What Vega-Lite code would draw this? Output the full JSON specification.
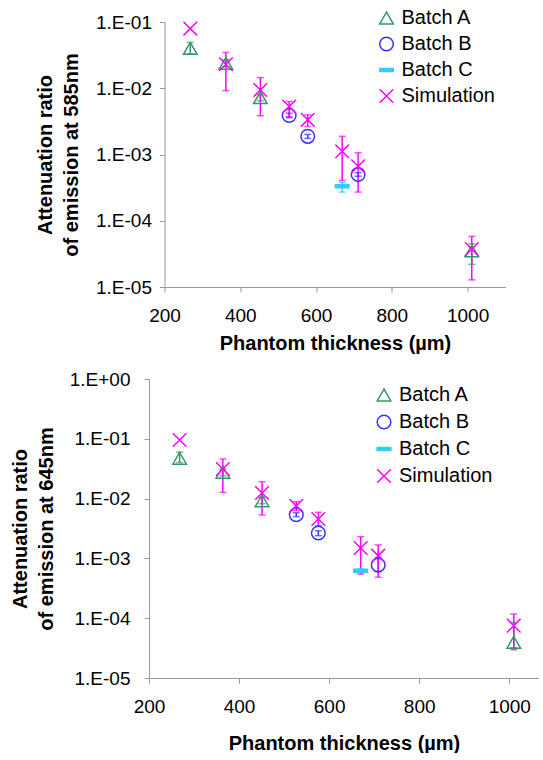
{
  "$schema": "https://vega.github.io/schema/vega-lite/v6.json",
  "padding": {"left": 10, "top": 8, "right": 0, "bottom": 0},
  "background": "white",
  "datasets": {
    "d": [
      {"p": "585", "s": "Batch A", "x": 268, "y": 0.040, "lo": 0.033, "hi": 0.049},
      {"p": "585", "s": "Batch A", "x": 362, "y": 0.0237, "lo": 0.021, "hi": 0.027},
      {"p": "585", "s": "Batch A", "x": 453, "y": 0.0072, "lo": 0.0065, "hi": 0.008},
      {"p": "585", "s": "Batch A", "x": 1011, "y": 0.000035, "lo": 0.000022, "hi": 0.000045},
      {"p": "585", "s": "Batch B", "x": 529, "y": 0.00388, "lo": 0.0036, "hi": 0.0042},
      {"p": "585", "s": "Batch B", "x": 578, "y": 0.00188, "lo": 0.00175, "hi": 0.00201},
      {"p": "585", "s": "Batch B", "x": 711, "y": 0.0005, "lo": 0.00047, "hi": 0.00053},
      {"p": "585", "s": "Batch C", "x": 669, "y": 0.000333, "lo": 0.000271, "hi": 0.000383},
      {"p": "585", "s": "Simulation", "x": 268, "y": 0.0796, "lo": null, "hi": null},
      {"p": "585", "s": "Simulation", "x": 362, "y": 0.023, "lo": 0.0092, "hi": 0.0347},
      {"p": "585", "s": "Simulation", "x": 453, "y": 0.0094, "lo": 0.00384, "hi": 0.0145},
      {"p": "585", "s": "Simulation", "x": 529, "y": 0.0053, "lo": 0.00375, "hi": 0.0063},
      {"p": "585", "s": "Simulation", "x": 578, "y": 0.00334, "lo": 0.00265, "hi": 0.00397},
      {"p": "585", "s": "Simulation", "x": 669, "y": 0.00112, "lo": 0.000406, "hi": 0.00188},
      {"p": "585", "s": "Simulation", "x": 711, "y": 0.000665, "lo": 0.000271, "hi": 0.00106},
      {"p": "585", "s": "Simulation", "x": 1011, "y": 0.0000373, "lo": 0.0000128, "hi": 0.000058},
      {"p": "645", "s": "Batch A", "x": 268, "y": 0.0472, "lo": 0.040, "hi": 0.0594},
      {"p": "645", "s": "Batch A", "x": 364, "y": 0.0275, "lo": 0.024, "hi": 0.031},
      {"p": "645", "s": "Batch A", "x": 451, "y": 0.0092, "lo": 0.0082, "hi": 0.0105},
      {"p": "645", "s": "Batch A", "x": 1010, "y": 0.0000395, "lo": 0.000032, "hi": 0.000085},
      {"p": "645", "s": "Batch B", "x": 527, "y": 0.00538, "lo": 0.005, "hi": 0.0058},
      {"p": "645", "s": "Batch B", "x": 576, "y": 0.00266, "lo": 0.0024, "hi": 0.0029},
      {"p": "645", "s": "Batch B", "x": 709, "y": 0.000776, "lo": 0.0006, "hi": 0.00102},
      {"p": "645", "s": "Batch C", "x": 670, "y": 0.000623, "lo": 0.00058, "hi": 0.00067},
      {"p": "645", "s": "Simulation", "x": 268, "y": 0.0955, "lo": null, "hi": null},
      {"p": "645", "s": "Simulation", "x": 364, "y": 0.0313, "lo": 0.0127, "hi": 0.046},
      {"p": "645", "s": "Simulation", "x": 451, "y": 0.0124, "lo": 0.00532, "hi": 0.0192},
      {"p": "645", "s": "Simulation", "x": 527, "y": 0.0076, "lo": 0.0063, "hi": 0.0089},
      {"p": "645", "s": "Simulation", "x": 576, "y": 0.00456, "lo": 0.00352, "hi": 0.0059},
      {"p": "645", "s": "Simulation", "x": 670, "y": 0.00149, "lo": 0.000548, "hi": 0.00231},
      {"p": "645", "s": "Simulation", "x": 709, "y": 0.00111, "lo": 0.000483, "hi": 0.00168},
      {"p": "645", "s": "Simulation", "x": 1010, "y": 0.000075, "lo": 0.0000297, "hi": 0.000117}
    ]
  },
  "config": {
    "view": {"stroke": null},
    "font": "Liberation Sans",
    "axis": {
      "grid": false,
      "domainColor": "#999999",
      "tickColor": "#999999",
      "tickSize": 5,
      "labelFont": "Liberation Sans",
      "labelFontSize": 19,
      "labelColor": "#000000",
      "titleFont": "Liberation Sans",
      "titleFontSize": 20,
      "titleFontWeight": "bold",
      "titleColor": "#000000"
    },
    "legend": {
      "labelFont": "Liberation Sans",
      "labelFontSize": 20,
      "labelColor": "#000000",
      "symbolSize": 185,
      "symbolStrokeWidth": 1.5,
      "rowPadding": 6,
      "labelOffset": 5,
      "padding": 0
    }
  },
  "center": true,
  "spacing": 17,
  "resolve": {
    "scale": {"shape": "independent", "stroke": "independent", "fill": "independent"},
    "legend": {"shape": "independent", "stroke": "independent", "fill": "independent"}
  },
  "vconcat": [
    {
      "width": 341,
      "height": 265,
      "title": {"text": " ", "orient": "right", "offset": 8, "fontSize": 10},
      "data": {"name": "d"},
      "transform": [{"filter": "datum.p == '585'"}],
      "encoding": {
        "x": {
          "field": "x", "type": "quantitative",
          "scale": {"domain": [200, 1100], "nice": false, "zero": false},
          "axis": {"values": [200, 400, 600, 800, 1000], "format": "d", "title": "Phantom thickness (µm)", "labelPadding": 14, "titlePadding": 8, "labelFlush": false}
        },
        "y": {
          "field": "y", "type": "quantitative",
          "scale": {"type": "log", "domain": [0.00001, 0.1], "nice": false},
          "axis": {
            "values": [0.00001, 0.0001, 0.001, 0.01, 0.1],
            "labelExpr": "'1.E' + (datum.value >= 1 ? '+00' : '-' + format(round(-log(datum.value)/LN10), '02d'))",
            "title": ["Attenuation ratio", "of emission at 585nm"],
            "titleLineHeight": 26,
            "labelPadding": 8,
            "titlePadding": 14,
            "labelFlush": false
          }
        }
      },
      "layer": [
        {
          "transform": [{"filter": "isValid(datum.lo)"}],
          "mark": {"type": "rule", "strokeWidth": 1.5},
          "encoding": {
            "y": {"field": "lo", "type": "quantitative"},
            "y2": {"field": "hi"},
            "color": {"field": "s", "type": "nominal", "scale": {"domain": ["Batch A", "Batch B", "Batch C", "Simulation"], "range": ["#339966", "#3333ff", "#33ccff", "#ff00ff"]}, "legend": null}
          }
        },
        {
          "transform": [{"filter": "isValid(datum.lo)"}],
          "mark": {"type": "tick", "orient": "horizontal", "size": 7, "thickness": 1.5},
          "encoding": {
            "y": {"field": "lo", "type": "quantitative"},
            "color": {"field": "s", "type": "nominal", "scale": {"domain": ["Batch A", "Batch B", "Batch C", "Simulation"], "range": ["#339966", "#3333ff", "#33ccff", "#ff00ff"]}, "legend": null}
          }
        },
        {
          "transform": [{"filter": "isValid(datum.hi)"}],
          "mark": {"type": "tick", "orient": "horizontal", "size": 7, "thickness": 1.5},
          "encoding": {
            "y": {"field": "hi", "type": "quantitative"},
            "color": {"field": "s", "type": "nominal", "scale": {"domain": ["Batch A", "Batch B", "Batch C", "Simulation"], "range": ["#339966", "#3333ff", "#33ccff", "#ff00ff"]}, "legend": null}
          }
        },
        {
          "mark": {"type": "point", "size": 185, "strokeWidth": 1.5, "opacity": 1},
          "encoding": {
            "shape": {"field": "s", "type": "nominal", "scale": {"domain": ["Batch A", "Batch B", "Batch C", "Simulation"], "range": ["triangle-up", "circle", "M-1,-0.22L1,-0.22L1,0.22L-1,0.22Z", "M-1,-1L1,1M-1,1L1,-1"]}, "legend": {"title": null, "orient": "none", "legendX": 212, "legendY": -14}},
            "stroke": {"field": "s", "type": "nominal", "scale": {"domain": ["Batch A", "Batch B", "Batch C", "Simulation"], "range": ["#339966", "#3333ff", "#33ccff", "#ff00ff"]}, "legend": {"title": null, "orient": "none", "legendX": 212, "legendY": -14}},
            "fill": {"field": "s", "type": "nominal", "scale": {"domain": ["Batch A", "Batch B", "Batch C", "Simulation"], "range": ["transparent", "transparent", "#33ccff", "transparent"]}, "legend": {"title": null, "orient": "none", "legendX": 212, "legendY": -14}}
          }
        }
      ]
    },
    {
      "width": 390,
      "height": 299,
      "data": {"name": "d"},
      "transform": [{"filter": "datum.p == '645'"}],
      "encoding": {
        "x": {
          "field": "x", "type": "quantitative",
          "scale": {"domain": [200, 1066], "nice": false, "zero": false},
          "axis": {"values": [200, 400, 600, 800, 1000], "format": "d", "title": "Phantom thickness (µm)", "labelPadding": 14, "titlePadding": 17, "labelFlush": false}
        },
        "y": {
          "field": "y", "type": "quantitative",
          "scale": {"type": "log", "domain": [0.00001, 1], "nice": false},
          "axis": {
            "values": [0.00001, 0.0001, 0.001, 0.01, 0.1, 1],
            "labelExpr": "'1.E' + (datum.value >= 1 ? '+00' : '-' + format(round(-log(datum.value)/LN10), '02d'))",
            "title": ["Attenuation ratio", "of emission at 645nm"],
            "titleLineHeight": 26,
            "labelPadding": 14,
            "titlePadding": 13,
            "labelFlush": false
          }
        }
      },
      "layer": [
        {
          "transform": [{"filter": "isValid(datum.lo)"}],
          "mark": {"type": "rule", "strokeWidth": 1.5},
          "encoding": {
            "y": {"field": "lo", "type": "quantitative"},
            "y2": {"field": "hi"},
            "color": {"field": "s", "type": "nominal", "scale": {"domain": ["Batch A", "Batch B", "Batch C", "Simulation"], "range": ["#339966", "#3333ff", "#33ccff", "#ff00ff"]}, "legend": null}
          }
        },
        {
          "transform": [{"filter": "isValid(datum.lo)"}],
          "mark": {"type": "tick", "orient": "horizontal", "size": 7, "thickness": 1.5},
          "encoding": {
            "y": {"field": "lo", "type": "quantitative"},
            "color": {"field": "s", "type": "nominal", "scale": {"domain": ["Batch A", "Batch B", "Batch C", "Simulation"], "range": ["#339966", "#3333ff", "#33ccff", "#ff00ff"]}, "legend": null}
          }
        },
        {
          "transform": [{"filter": "isValid(datum.hi)"}],
          "mark": {"type": "tick", "orient": "horizontal", "size": 7, "thickness": 1.5},
          "encoding": {
            "y": {"field": "hi", "type": "quantitative"},
            "color": {"field": "s", "type": "nominal", "scale": {"domain": ["Batch A", "Batch B", "Batch C", "Simulation"], "range": ["#339966", "#3333ff", "#33ccff", "#ff00ff"]}, "legend": null}
          }
        },
        {
          "mark": {"type": "point", "size": 185, "strokeWidth": 1.5, "opacity": 1},
          "encoding": {
            "shape": {"field": "s", "type": "nominal", "scale": {"domain": ["Batch A", "Batch B", "Batch C", "Simulation"], "range": ["triangle-up", "circle", "M-1,-0.22L1,-0.22L1,0.22L-1,0.22Z", "M-1,-1L1,1M-1,1L1,-1"]}, "legend": {"title": null, "orient": "none", "legendX": 225, "legendY": 6, "rowPadding": 7}},
            "stroke": {"field": "s", "type": "nominal", "scale": {"domain": ["Batch A", "Batch B", "Batch C", "Simulation"], "range": ["#339966", "#3333ff", "#33ccff", "#ff00ff"]}, "legend": {"title": null, "orient": "none", "legendX": 225, "legendY": 6, "rowPadding": 7}},
            "fill": {"field": "s", "type": "nominal", "scale": {"domain": ["Batch A", "Batch B", "Batch C", "Simulation"], "range": ["transparent", "transparent", "#33ccff", "transparent"]}, "legend": {"title": null, "orient": "none", "legendX": 225, "legendY": 6, "rowPadding": 7}}
          }
        }
      ]
    }
  ]
}
